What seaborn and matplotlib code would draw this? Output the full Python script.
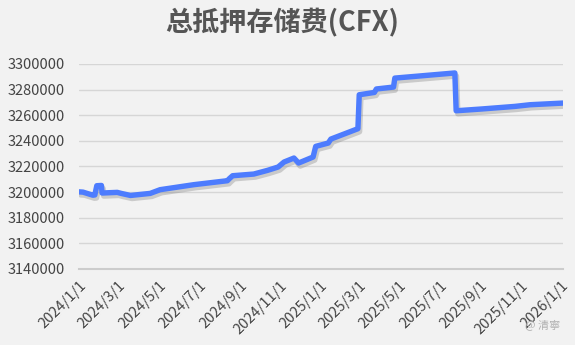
import matplotlib
matplotlib.use("Agg")
import matplotlib.pyplot as plt
import matplotlib.dates as mdates
import matplotlib.patheffects as pe
import seaborn as sns
import pandas as pd

# ---- data ----
dates = [
    "2024-01-01", "2024-01-07", "2024-01-22", "2024-01-25", "2024-01-28", "2024-02-04",
    "2024-02-05", "2024-02-28", "2024-03-05", "2024-03-19", "2024-04-18", "2024-05-03",
    "2024-06-23", "2024-08-13", "2024-08-16", "2024-08-21", "2024-09-22", "2024-10-13",
    "2024-10-29", "2024-11-07", "2024-11-22", "2024-11-29", "2024-12-21", "2024-12-25",
    "2025-01-13", "2025-01-17", "2025-02-27", "2025-03-01", "2025-03-24", "2025-03-27",
    "2025-04-22", "2025-04-24", "2025-07-24", "2025-07-26", "2025-09-03", "2025-10-23",
    "2025-11-15", "2026-01-04",
]
values = [
    3200200, 3200000, 3197600, 3197800, 3205000, 3205200,
    3199300, 3199800, 3199000, 3197400, 3199000, 3201900,
    3205800, 3208900, 3210500, 3212800, 3214100, 3217000,
    3219600, 3223500, 3226600, 3222700, 3227400, 3235700,
    3238300, 3241400, 3249500, 3276000, 3277800, 3280500,
    3282000, 3289000, 3293000, 3263500, 3264900, 3266900,
    3268200, 3269500,
]
title = "总抵押存储费(CFX)"
y_ticks = [3140000, 3160000, 3180000, 3200000, 3220000, 3240000, 3260000, 3280000, 3300000]
watermark = "@ 清寧"

df = pd.DataFrame({"date": pd.to_datetime(dates), "value": values})

sns.set_theme(style="white")
plt.rcParams["font.family"] = ["Noto Sans CJK SC", "DejaVu Sans"]

bg = "#f2f2f2"
fig = plt.figure(figsize=(5.75, 3.45), dpi=100, facecolor=bg)
ax = fig.add_axes([0.1374, 0.2203, 0.8417, 0.5942], facecolor=bg)

sns.lineplot(data=df, x="date", y="value", ax=ax, color="#4d7cfe", linewidth=3.9,
             solid_joinstyle="round", solid_capstyle="round",
             path_effects=[pe.SimpleLineShadow(offset=(1.2, -2.2), shadow_color="#808080", alpha=0.35),
                           pe.Normal()])

ax.set_xlim(pd.Timestamp("2024-01-01"), pd.Timestamp("2026-01-04"))
ax.set_ylim(y_ticks[0], y_ticks[-1])
ax.set_yticks(y_ticks)
ax.set_yticklabels([str(v) for v in y_ticks])

ax.xaxis.set_major_locator(mdates.MonthLocator(bymonth=[1, 3, 5, 7, 9, 11]))
ax.xaxis.set_major_formatter(mdates.DateFormatter("%Y/%-m/%-d"))

ax.grid(axis="y", color="#d6d6d6", linewidth=1)
ax.grid(axis="x", visible=False)
for s in ["top", "right", "left"]:
    ax.spines[s].set_visible(False)
ax.spines["bottom"].set_color("#cccccc")
ax.spines["bottom"].set_linewidth(1.5)

ax.tick_params(axis="y", length=0, pad=10, labelsize=10.5, labelcolor="#444444")
ax.tick_params(axis="x", length=5, width=1.2, color="#cccccc", direction="out",
               pad=2, labelsize=10.5, labelcolor="#444444")
for lab in ax.get_xticklabels():
    lab.set_rotation(45)
    lab.set_ha("right")
    lab.set_va("top")
    lab.set_rotation_mode("anchor")

ax.set_xlabel("")
ax.set_ylabel("")

fig.text(0.49, 0.935, title, ha="center", va="center", fontsize=19.5, fontweight="bold",
         color="#555555")
fig.text(0.975, 0.055, watermark, ha="right", va="center", fontsize=8, color="#b0b0b0")

fig.savefig("out.png", dpi=100, facecolor=bg)
